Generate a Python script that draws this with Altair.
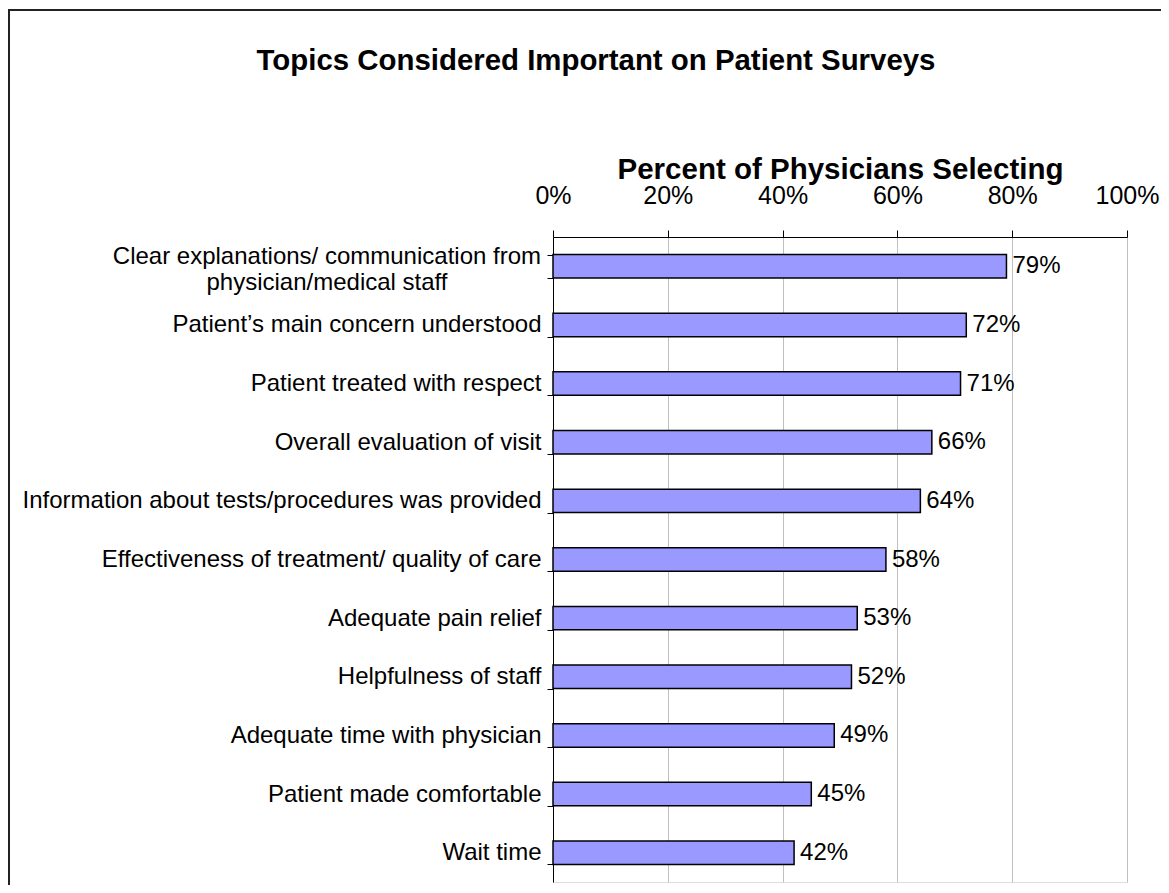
import altair as alt
import pandas as pd

categories = [
    "Clear explanations/ communication from physician/medical staff",
    "Patient\u2019s main concern understood",
    "Patient treated with respect",
    "Overall evaluation of visit",
    "Information about tests/procedures was provided",
    "Effectiveness of treatment/ quality of care",
    "Adequate pain relief",
    "Helpfulness of staff",
    "Adequate time with physician",
    "Patient made comfortable",
    "Wait time",
]
values = [79, 72, 71, 66, 64, 58, 53, 52, 49, 45, 42]
tick_values = [0, 20, 40, 60, 80, 100]
wrapped_line1 = "Clear explanations/ communication from"
wrapped_line2 = "physician/medical staff"

df = pd.DataFrame({"topic": categories, "pct": values})
df["label"] = df["pct"].astype(str) + "%"

wrap_df = pd.DataFrame({"topic": [categories[0]], "l1": [wrapped_line1], "l2": [wrapped_line2]})

FONT = "Liberation Sans"
LABEL_SIZE = 24

base = alt.Chart(df)

y_enc = alt.Y(
    "topic:N",
    sort=categories,
    scale=alt.Scale(paddingInner=0.6, paddingOuter=0.3),
    axis=alt.Axis(
        title=None,
        orient="left",
        domainColor="black",
        domainWidth=1,
        tickColor="black",
        tickSize=6,
        tickBand="extent",
        labelFont=FONT,
        labelFontSize=LABEL_SIZE,
        labelColor="black",
        labelPadding=6,
        labelLimit=0,
        labelExpr="indexof(datum.label, 'Clear') == 0 ? '' : datum.label",
        grid=False,
    ),
)

x_enc = alt.X(
    "pct:Q",
    scale=alt.Scale(domain=[0, 100], nice=False),
    axis=alt.Axis(
        title="Percent of Physicians Selecting",
        orient="top",
        values=tick_values,
        labelExpr="datum.value + '%'",
        labelFont=FONT,
        labelFontSize=25,
        labelColor="black",
        labelPadding=22,
        labelFlush=False,
        tickColor="black",
        tickSize=7,
        domainColor="black",
        grid=True,
        gridColor="#c0c0c0",
        gridWidth=1,
        titleFont=FONT,
        titleFontSize=29.5,
        titleFontWeight="bold",
        titleColor="black",
        titlePadding=-1,
    ),
)

bars = base.mark_bar(fill="#9999FF", stroke="black", strokeWidth=1.5).encode(
    x=x_enc, y=y_enc
)

texts = base.mark_text(
    align="left", baseline="middle", dx=6, font=FONT, fontSize=24, color="black"
).encode(x="pct:Q", y=alt.Y("topic:N", sort=categories), text="label:N")

wrap = alt.Chart(wrap_df)
wrap1 = wrap.mark_text(
    align="right", baseline="middle", dy=-9, font=FONT, fontSize=LABEL_SIZE, color="black"
).encode(x=alt.value(-12), y=alt.Y("topic:N", sort=categories), text="l1:N")
wrap2 = wrap.mark_text(
    align="center", baseline="middle", dy=17, font=FONT, fontSize=LABEL_SIZE, color="black"
).encode(x=alt.value(-226), y=alt.Y("topic:N", sort=categories), text="l2:N")

one = alt.Chart(pd.DataFrame({"a": [0]}))
frame_left = one.mark_rule(color="#222222", strokeWidth=2).encode(
    x=alt.value(-544), x2=alt.value(-544), y=alt.value(-227), y2=alt.value(800)
)
frame_top = one.mark_rule(color="#222222", strokeWidth=2).encode(
    x=alt.value(-545), x2=alt.value(800), y=alt.value(-227), y2=alt.value(-227)
)

chart = (
    alt.layer(bars, texts, wrap1, wrap2, frame_left, frame_top)
    .properties(
        width=574,
        height=645,
        title=alt.TitleParams(
            text="Topics Considered Important on Patient Surveys",
            font=FONT,
            fontSize=29.4,
            fontWeight="bold",
            color="black",
            anchor="middle",
            frame="group",
            dx=-244,
            offset=-67,
        ),
        autosize=alt.AutoSizeParams(type="none"),
        padding={"left": 545, "top": 229, "right": 34, "bottom": 3},
    )
    .configure_view(stroke="#999999", strokeWidth=1.5)
    .configure(background="white")
)

chart.save("out.html", embed_options={"renderer": "svg", "actions": False})
